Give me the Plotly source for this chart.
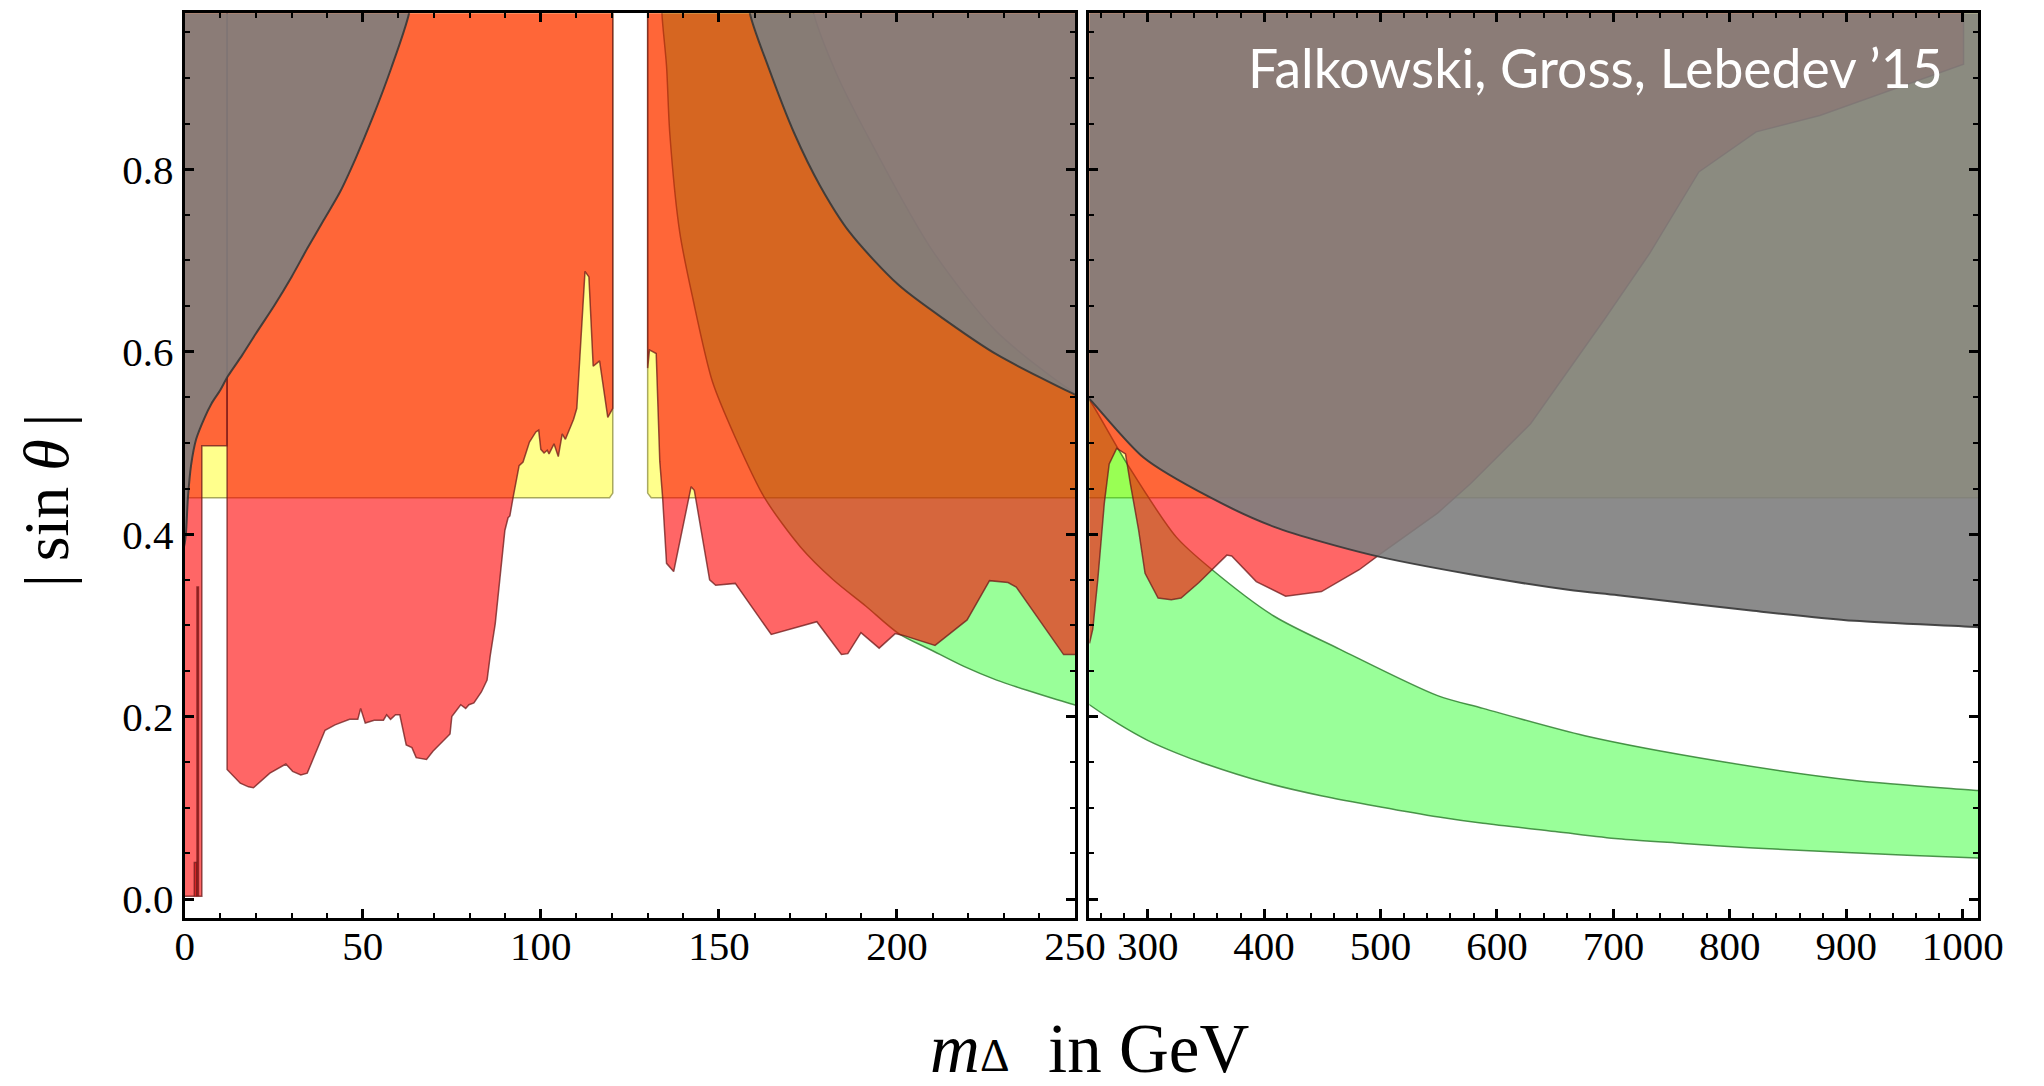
import plotly.graph_objects as go

# ---------------- data (m_Delta in GeV, |sin theta|) ----------------
# Higgs-coupling bound: everything above |sin theta| = 0.44 is excluded (yellow)
yellow_a_x = [-2, 119.3, 120.2, 120.2, -2]
yellow_a_y = [0.44, 0.44, 0.445, 1.02, 1.02]
yellow_b_x = [130.0, 130.0, 131.0, 252, 252]
yellow_b_y = [1.02, 0.445, 0.44, 0.44, 1.02]
yellow_c_x = [248, 1020, 1020, 248]
yellow_c_y = [0.44, 0.44, 1.02, 1.02]

# W-mass band (green), low-mass panel
green_lo_x = [133.9, 134.0, 135.3, 136.2, 139.0, 142.7, 148.2, 154.6, 162.8, 172.9,
              182.1, 191.3, 200.5, 209.6, 218.8, 228.0, 237.2, 249.8, 252]
green_lo_y = [1.02, 0.971, 0.913, 0.84, 0.731, 0.658, 0.567, 0.506, 0.440, 0.386,
              0.350, 0.321, 0.291, 0.273, 0.255, 0.240, 0.228, 0.213, 0.211]
green_hi_x = [252, 250, 228.0, 209.6, 191.3, 183.0, 176.6, 174.5]
green_hi_y = [0.553, 0.555, 0.622, 0.713, 0.84, 0.905, 0.971, 1.02]

# W-mass band (green), high-mass panel
green2_lo_x = [248, 250, 275, 300, 325, 350, 400, 450, 500, 550, 588, 650, 704, 760,
               820, 900, 1013, 1020]
green2_lo_y = [0.215, 0.213, 0.192, 0.174, 0.160, 0.148, 0.128, 0.113, 0.101, 0.090,
               0.083, 0.074, 0.066, 0.061, 0.056, 0.051, 0.045, 0.045]
green2_hi_x = [1020, 1012, 907.2, 791.3, 675.4, 588, 549, 464.8, 408.7, 355.4, 324.5,
               282.4, 250, 248]
green2_hi_y = [0.118, 0.119, 0.130, 0.151, 0.179, 0.209, 0.223, 0.274, 0.310, 0.361,
               0.397, 0.477, 0.547, 0.549]

# Direct searches (red)
lep_x = [-2, 4.8, 4.8, 11.9, 11.9, -2]
lep_y = [0.003, 0.003, 0.497, 0.497, 1.02, 1.02]
lep_line1_x = [3.45, 3.45, 3.85, 3.85]
lep_line1_y = [0.003, 0.342, 0.342, 0.003]
lep_line2_x = [2.7, 2.7, 3.3, 3.3]
lep_line2_y = [0.003, 0.04, 0.04, 0.003]

red_a_x = [11.9, 11.9, 15.6, 17.9, 19.3, 23.9, 28.4, 30.3, 32.6, 34.4, 39.4, 42.2, 46.3,
           48.6, 49.4, 50.7, 53.2, 55.8, 56.7, 57.8, 59.2, 60.4, 62.2, 63.8, 65.0, 67.9,
           69.7, 74.5, 75.0, 77.5, 78.9, 79.8, 81.2, 83.3, 84.9, 85.8, 87.2, 89.9, 90.8,
           91.3, 92.2, 93.9, 95.0, 96.8, 98.6, 99.4, 100.0, 100.9, 101.8, 102.3, 103.7,
           104.9, 106.0, 106.9, 109.2, 110.1, 112.4, 113.5, 114.7, 116.5, 118.8, 120.2,
           120.2]
red_a_y = [1.02, 0.142, 0.127, 0.123, 0.122, 0.138, 0.148, 0.140, 0.136, 0.138, 0.185,
           0.191, 0.197, 0.197, 0.209, 0.193, 0.196, 0.196, 0.202, 0.197, 0.202, 0.202,
           0.169, 0.166, 0.155, 0.153, 0.162, 0.181, 0.200, 0.213, 0.209, 0.213, 0.215,
           0.227, 0.240, 0.267, 0.302, 0.404, 0.418, 0.420, 0.440, 0.475, 0.479, 0.501,
           0.512, 0.514, 0.493, 0.489, 0.492, 0.488, 0.499, 0.485, 0.510, 0.504, 0.526,
           0.538, 0.688, 0.682, 0.584, 0.590, 0.528, 0.538, 1.02]

red_b_x = [130.0, 130.0, 130.5, 132.4, 133.4, 134.2, 135.3, 137.3, 142.2, 143.1, 147.4,
           149.1, 154.6, 164.7, 177.5, 184.4, 186.2, 189.9, 195.0, 199.5, 201.8, 210.7,
           219.7, 226.0, 231.2, 233.5, 246.8, 252, 252]
red_b_y = [1.02, 0.582, 0.602, 0.598, 0.480, 0.440, 0.368, 0.359, 0.452, 0.448, 0.350,
           0.344, 0.346, 0.290, 0.304, 0.268, 0.269, 0.292, 0.275, 0.291, 0.289, 0.278,
           0.306, 0.349, 0.347, 0.342, 0.268, 0.268, 1.02]

red_c_x = [248, 250.2, 252.9, 257.2, 262.8, 267.0, 273.4, 281.0, 285.2, 292.2, 297.8,
           309.0, 320.3, 328.7, 344.1, 355.4, 368.0, 372.2, 393.3, 418.5, 449.3, 481.7,
           498.5, 549.0, 577.0, 628.9, 692.1, 731.3, 773.4, 822.6, 877.3, 1000.7,
           1000.7, 248]
red_c_y = [0.281, 0.281, 0.296, 0.350, 0.434, 0.477, 0.494, 0.488, 0.455, 0.405, 0.357,
           0.330, 0.328, 0.330, 0.347, 0.361, 0.377, 0.376, 0.348, 0.332, 0.337, 0.361,
           0.377, 0.423, 0.455, 0.521, 0.635, 0.708, 0.797, 0.841, 0.859, 0.915,
           1.02, 1.02]

# Perturbative unitarity / vacuum stability (gray)
gray_a_x = [-2, 0, 0.4, 0.9, 1.8, 3.2, 5.5, 7.5, 10.0, 12.1, 16.1, 20.0, 25.2, 30.0,
            34.4, 39.0, 43.6, 48.0, 52.8, 58.0, 63.0, 64.6, -2]
gray_a_y = [0.36, 0.39, 0.404, 0.44, 0.476, 0.504, 0.527, 0.543, 0.558, 0.573, 0.596,
            0.620, 0.651, 0.682, 0.713, 0.744, 0.775, 0.812, 0.857, 0.911, 0.971, 1.02,
            1.02]
gray_b_x = [157.5, 158.7, 163.8, 171.1, 178.4, 186.7, 200.5, 214.2, 228.0, 250, 252, 252]
gray_b_y = [1.02, 0.971, 0.913, 0.84, 0.782, 0.731, 0.673, 0.633, 0.597, 0.553, 0.55, 1.02]
gray_c_x = [248, 250.2, 296.5, 352.5, 408.7, 492.9, 577.0, 661.2, 704, 820, 907, 1013,
            1020, 1020, 248]
gray_c_y = [0.55, 0.548, 0.484, 0.441, 0.408, 0.377, 0.356, 0.339, 0.333, 0.316, 0.305,
            0.298, 0.297, 1.02, 1.02]

# ticks
x1_ticks = [0, 50, 100, 150, 200, 250]
x2_ticks = [300, 400, 500, 600, 700, 800, 900, 1000]
y_ticks = [0.0, 0.2, 0.4, 0.6, 0.8]
y_ticktext = ["0.0", "0.2", "0.4", "0.6", "0.8"]

# ---------------- styles ----------------
YELLOW = dict(fill="rgba(255,255,0,0.45)", line="rgba(140,140,60,0.75)", w=1.5)
GREEN = dict(fill="rgba(0,255,0,0.40)", line="rgba(40,120,40,0.8)", w=1.5)
RED = dict(fill="rgba(255,0,0,0.60)", line="rgba(110,25,25,0.75)", w=1.5)
GRAY = dict(fill="rgba(126,126,126,0.90)", line="rgba(55,55,55,0.9)", w=2)

fig = go.Figure()


def region(xs, ys, style, axis=1, smooth=False):
    line = dict(color=style["line"], width=style["w"])
    if smooth:
        line.update(shape="spline", smoothing=0.8)
    fig.add_trace(go.Scatter(
        x=xs, y=ys, mode="lines", fill="toself",
        fillcolor=style["fill"], line=line,
        xaxis="x" if axis == 1 else "x2",
        yaxis="y" if axis == 1 else "y2",
        hoverinfo="skip", showlegend=False,
    ))


# layer order: yellow, green, red, gray
region(yellow_a_x, yellow_a_y, YELLOW)
region(yellow_b_x, yellow_b_y, YELLOW)
region(yellow_c_x, yellow_c_y, YELLOW, 2)

region(green_lo_x + green_hi_x, green_lo_y + green_hi_y, GREEN, 1, smooth=True)
region(green2_lo_x + green2_hi_x, green2_lo_y + green2_hi_y, GREEN, 2, smooth=True)

region(lep_x, lep_y, RED)
region(lep_line1_x, lep_line1_y, RED)
region(lep_line2_x, lep_line2_y, RED)
region(red_a_x, red_a_y, RED)
region(red_b_x, red_b_y, RED)
region(red_c_x, red_c_y, RED, 2)

region(gray_a_x, gray_a_y, GRAY, 1, smooth=True)
region(gray_b_x, gray_b_y, GRAY, 1, smooth=True)
region(gray_c_x, gray_c_y, GRAY, 2, smooth=True)

# ---------------- axes ----------------
W, H = 2044, 1086
TICKFONT = dict(family="Liberation Serif", size=41, color="black")

common = dict(
    showline=True, linecolor="black", linewidth=3, mirror="ticks",
    ticks="inside", ticklen=9, tickwidth=2.5, tickcolor="black",
    showgrid=False, zeroline=False, tickfont=TICKFONT, fixedrange=True,
)

x1_minor = [v for v in range(10, 250, 10) if v % 50]
x2_minor = [v for v in range(260, 1013, 20) if v % 100]
y_minor = [round(0.05 * k, 2) for k in range(1, 20) if k % 4]
minor_style = dict(ticks="inside", ticklen=5, tickwidth=2, tickcolor="black",
                   showgrid=False)

y_dom = [1 - 922 / H, 1 - 13.3 / H]

TITLE_FONT = dict(family="Liberation Serif", size=69, color="black")

fig.update_layout(
    width=W, height=H,
    margin=dict(l=0, r=0, t=0, b=0),
    paper_bgcolor="white", plot_bgcolor="white",
    xaxis=dict(domain=[178.3 / W, 1086.8 / W], range=[0, 250], anchor="y",
               tickmode="array", tickvals=x1_ticks, ticklabelstandoff=-10,
               minor=dict(tickmode="array", tickvals=x1_minor, **minor_style),
               **common),
    xaxis2=dict(domain=[1101.5 / W, 2008.3 / W], range=[250, 1013.1], anchor="y2",
                tickmode="array", tickvals=x2_ticks, ticklabelstandoff=-10,
                minor=dict(tickmode="array", tickvals=x2_minor, **minor_style),
                **common),
    yaxis=dict(domain=y_dom, range=[-0.0205, 0.971], anchor="x",
               tickmode="array", tickvals=y_ticks, ticktext=y_ticktext,
               minor=dict(tickmode="array", tickvals=y_minor, **minor_style),
               **common),
    yaxis2=dict(domain=y_dom, range=[-0.0205, 0.971], anchor="x2",
                tickmode="array", tickvals=y_ticks, showticklabels=False,
                minor=dict(tickmode="array", tickvals=y_minor, **minor_style),
                **common),
    annotations=[
        # x-axis title, assembled from three pieces so the subscript stays on the page
        dict(text="<i>m</i>", xref="paper", yref="paper",
             x=964 / W, y=1 - 1053.7 / H, xanchor="center", yanchor="middle",
             showarrow=False, font=TITLE_FONT),
        dict(text="Δ", xref="paper", yref="paper", borderpad=0,
             x=1005 / W, y=1 - 1060 / H, xanchor="center", yanchor="middle",
             showarrow=False,
             font=dict(family="Liberation Serif", size=46, color="black")),
        dict(text="in GeV", xref="paper", yref="paper",
             x=1162 / W, y=1 - 1053.7 / H, xanchor="center", yanchor="middle",
             showarrow=False, font=TITLE_FONT),
        dict(text="|\u2009sin <i>θ</i>\u2009|", xref="paper", yref="paper",
             x=37 / W, y=1 - 503 / H, xanchor="center", yanchor="middle",
             textangle=-90, showarrow=False,
             font=dict(family="Liberation Serif", size=64, color="black")),
        dict(text="Falkowski, Gross, Lebedev ’15", xref="paper", yref="paper",
             x=1975 / W, y=1 - 67 / H, xanchor="right", yanchor="middle",
             showarrow=False,
             font=dict(family="Lato", size=53.5, color="white")),
    ],
)

fig.write_html("out.html", config={"displayModeBar": False})
